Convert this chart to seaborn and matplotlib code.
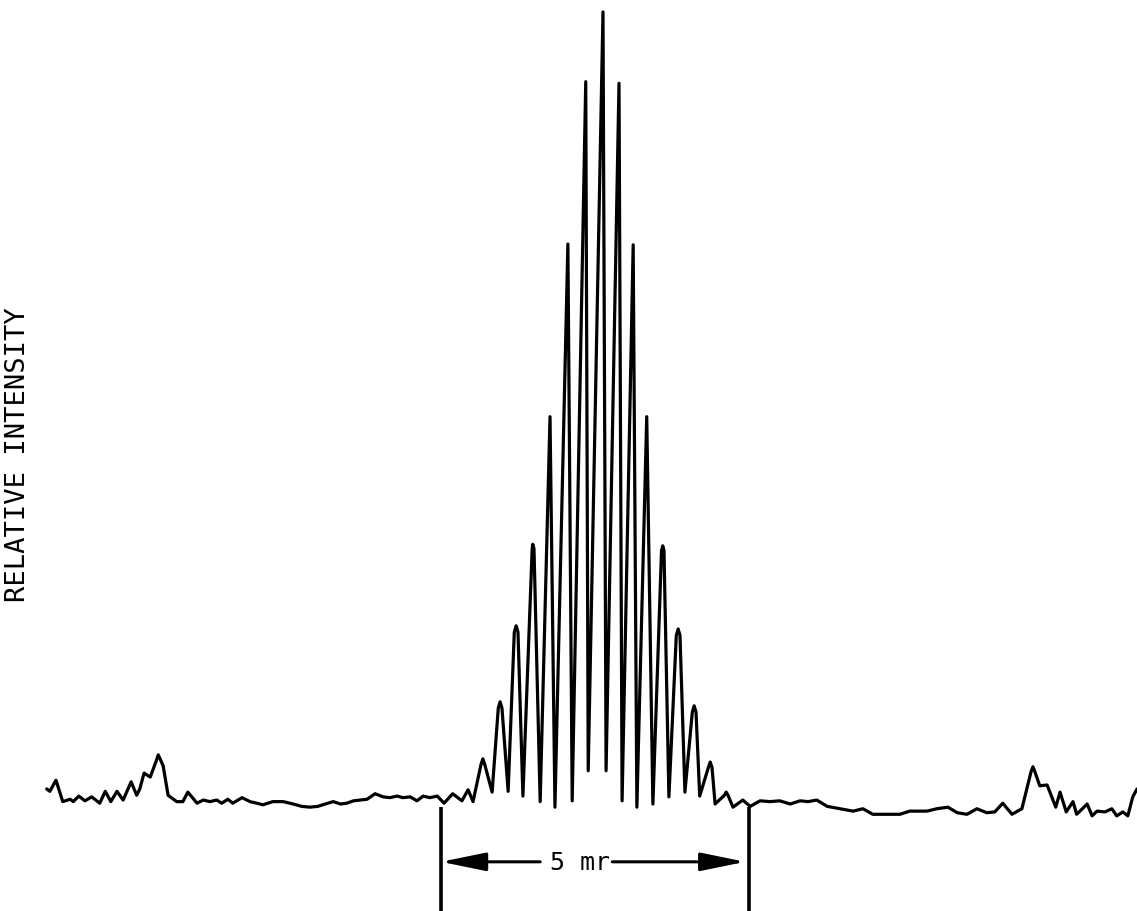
import matplotlib
matplotlib.use("Agg")
import matplotlib.pyplot as plt
import seaborn as sns
import pandas as pd

# Scan angle (milliradians, 0 = midpoint of the 5 mr marker) and relative intensity
angle_mr = [
    -8.90, -8.85, -8.75, -8.64, -8.52, -8.47, -8.38, -8.28, -8.17, -8.04,
    -7.95, -7.86, -7.76, -7.66, -7.53, -7.44, -7.39, -7.32, -7.22, -7.12,
    -7.09, -7.06, -7.01, -6.93, -6.79, -6.69, -6.61, -6.46, -6.36, -6.25,
    -6.14, -6.06, -5.96, -5.88, -5.73, -5.60, -5.49, -5.39, -5.23, -5.06,
    -4.90, -4.76, -4.63, -4.50, -4.42, -4.25, -4.13, -4.03, -3.92, -3.81,
    -3.70, -3.57, -3.44, -3.33, -3.21, -3.12, -3.00, -2.89, -2.79, -2.68,
    -2.56, -2.45, -2.31, -2.16, -2.06, -1.98,
    -1.85, -1.82, -1.79, -1.67, -1.57, -1.54, -1.51, -1.41, -1.31, -1.28,
    -1.25, -1.17, -1.02, -1.01, -0.99, -0.89, -0.73, -0.65,
    -0.44, -0.37, -0.15, -0.11, 0.13, 0.18, 0.39, 0.44, 0.62, 0.68,
    0.84, 0.94, 1.08, 1.10, 1.12, 1.20, 1.32, 1.35, 1.38, 1.46,
    1.58, 1.61, 1.64, 1.70, 1.84, 1.87, 1.90, 1.95, 2.10, 2.13,
    2.16, 2.24, 2.40, 2.52,
    2.68, 2.84, 3.00, 3.17, 3.33, 3.46, 3.60, 3.77, 3.98, 4.19,
    4.35, 4.51, 4.74, 4.95, 5.11, 5.39, 5.55, 5.73, 5.88, 6.04,
    6.20, 6.36, 6.49, 6.62, 6.77, 6.93, 7.08, 7.11, 7.14, 7.22,
    7.34, 7.48, 7.55, 7.65, 7.76, 7.82, 7.99, 8.07, 8.15, 8.28,
    8.39, 8.47, 8.57, 8.65, 8.73, 8.80,
]
intensity = [
    0.019, 0.016, 0.030, 0.003, 0.006, 0.003, 0.010, 0.004, 0.009, 0.001,
    0.016, 0.003, 0.016, 0.005, 0.028, 0.011, 0.019, 0.039, 0.034, 0.055,
    0.062, 0.057, 0.048, 0.011, 0.003, 0.003, 0.015, 0.001, 0.005, 0.003,
    0.005, 0.001, 0.006, 0.001, 0.008, 0.003, 0.001, -0.001, 0.003, 0.003,
    0.000, -0.003, -0.004, -0.003, -0.001, 0.003, 0.000, 0.001, 0.004, 0.005,
    0.006, 0.013, 0.009, 0.008, 0.010, 0.008, 0.009, 0.004, 0.010, 0.008,
    0.010, 0.001, 0.013, 0.004, 0.018, 0.003,
    0.050, 0.057, 0.050, 0.015, 0.121, 0.129, 0.121, 0.016, 0.217, 0.225,
    0.217, 0.010, 0.322, 0.328, 0.322, 0.003, 0.489, -0.004,
    0.707, 0.004, 0.912, 0.042, 1.000, 0.042, 0.910, 0.004, 0.706, -0.004,
    0.489, 0.000, 0.320, 0.326, 0.320, 0.009, 0.213, 0.221, 0.213, 0.015,
    0.116, 0.124, 0.116, 0.010, 0.046, 0.053, 0.046, 0.000, 0.011, 0.015,
    0.011, -0.004, 0.005, -0.003,
    0.004, 0.003, 0.004, 0.000, 0.004, 0.003, 0.005, -0.003, -0.006, -0.009,
    -0.006, -0.013, -0.013, -0.013, -0.009, -0.009, -0.006, -0.004, -0.011, -0.013,
    -0.006, -0.011, -0.010, 0.001, -0.013, -0.006, 0.041, 0.047, 0.041, 0.023,
    0.024, -0.004, 0.015, -0.010, 0.003, -0.013, 0.000, -0.015, -0.009, -0.010,
    -0.006, -0.015, -0.010, -0.015, 0.009, 0.019,
]

marker_edges = [-2.5, 2.5]
marker_label = "5 mr"
y_label = "RELATIVE INTENSITY"

df = pd.DataFrame({"angle": angle_mr, "intensity": intensity})

sns.set_style("white")
plt.rcParams["font.family"] = ["DejaVu Sans Mono", "DejaVu Sans"]

fig = plt.figure(figsize=(11.37, 9.12), dpi=100)
ax = fig.add_axes([0, 0, 1, 1])

sns.lineplot(data=df, x="angle", y="intensity", sort=False, estimator=None,
             color="black", linewidth=2.3, ax=ax)

ax.set_xlim(-9.659, 8.799)
ax.set_ylim(-0.1351, 1.0164)
ax.set_axis_off()

# 5 mr marker: vertical bars and double arrow
for xe in marker_edges:
    ax.plot([xe, xe], [-0.004, -0.14], color="black", linewidth=2.6,
            solid_capstyle="butt")

arrow_y = -0.073
ax.text(-0.24, arrow_y, marker_label, ha="center", va="center", fontsize=18,
        color="black")
ax.annotate("", xy=(marker_edges[0], arrow_y), xytext=(-0.89, arrow_y),
            arrowprops=dict(arrowstyle="-|>,head_length=1.37,head_width=0.28",
                            mutation_scale=20, color="black", lw=2.2,
                            shrinkA=0, shrinkB=0))
ax.annotate("", xy=(2.44, arrow_y), xytext=(0.28, arrow_y),
            arrowprops=dict(arrowstyle="-|>,head_length=1.37,head_width=0.28",
                            mutation_scale=20, color="black", lw=2.2,
                            shrinkA=0, shrinkB=0))

fig.text(0.0158, 0.501, y_label, rotation=90, ha="center", va="center",
         fontsize=19.5, color="black")

fig.savefig("out.png", dpi=100, facecolor="white")
